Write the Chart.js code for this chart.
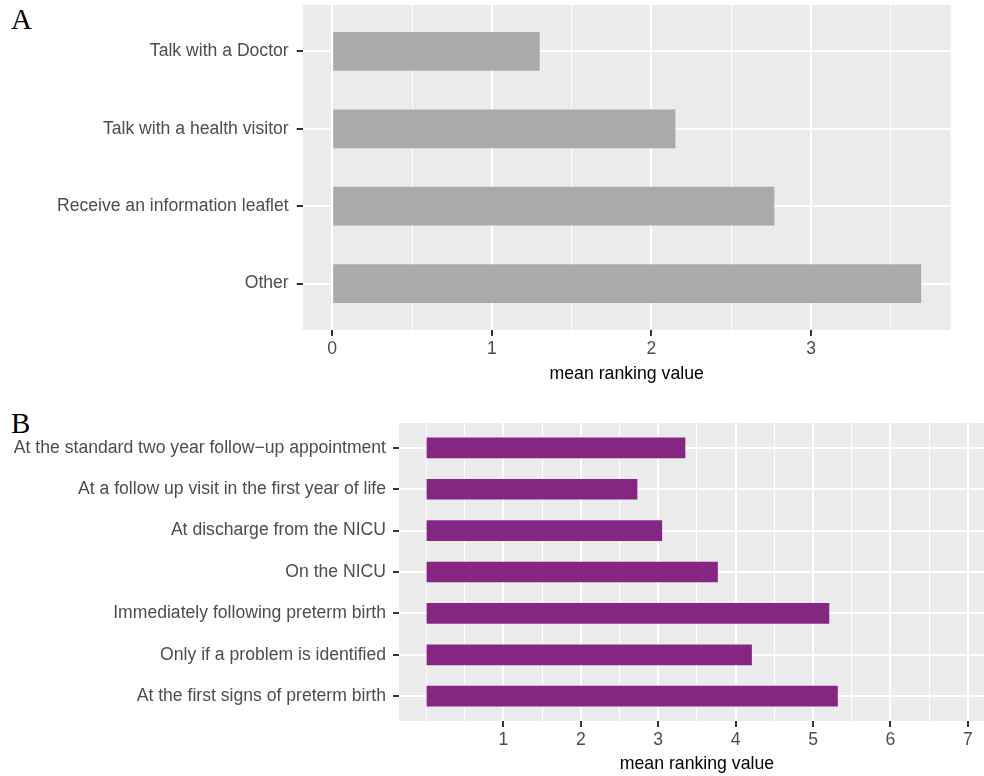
<!DOCTYPE html>
<html>
<head>
<meta charset="utf-8">
<script src="https://cdn.jsdelivr.net/npm/chart.js@4/dist/chart.umd.min.js"></script>
<style>
  html, body { margin: 0; padding: 0; background: #fff; overflow: hidden; }
  body { width: 984px; height: 776px; position: relative; }
  canvas { position: absolute; left: 0; }
  .tag { position: absolute; left: 11px; font-family: "Liberation Serif", "DejaVu Serif", serif; font-size: 29px; line-height: 29px; color: #000; }
</style>
</head>
<body>
<div class="tag" style="top:5px">A</div>
<canvas id="chartA" width="984" height="390" style="top:0"></canvas>
<div class="tag" style="top:409px">B</div>
<canvas id="chartB" width="1000" height="376" style="top:400px"></canvas>
<script>
// panel A: how parents want to receive information
const catsA = ['Talk with a Doctor', 'Talk with a health visitor', 'Receive an information leaflet', 'Other'];
const valsA = [1.30, 2.15, 2.77, 3.69];
const majorA = [0, 1, 2, 3];
const minorA = [0.5, 1.5, 2.5, 3.5];

// panel B: when to receive it
const catsB = [
  'At the standard two year follow\u2212up appointment',
  'At a follow up visit in the first year of life',
  'At discharge from the NICU',
  'On the NICU',
  'Immediately following preterm birth',
  'Only if a problem is identified',
  'At the first signs of preterm birth'
];
const valsB = [3.35, 2.73, 3.05, 3.77, 5.21, 4.21, 5.32];
const majorB = [1, 2, 3, 4, 5, 6, 7];
const minorB = [0, 0.5, 1.5, 2.5, 3.5, 4.5, 5.5, 6.5];

const tickFont = { family: 'Liberation Sans, Arial, sans-serif', size: 17.6 };
const titleFont = { family: 'Liberation Sans, Arial, sans-serif', size: 17.7 };

const panelBg = {
  id: 'panelBg',
  beforeDraw(chart) {
    const { ctx, chartArea: a } = chart;
    ctx.save();
    ctx.fillStyle = '#EBEBEB';
    ctx.fillRect(a.left, a.top, a.right - a.left, a.bottom - a.top);
    ctx.restore();
  }
};

function makeChart(id, cats, vals, color, major, minor, xMin, xMax, lay) {
  const ticksX = major.concat(minor).sort((a, b) => a - b);
  return new Chart(document.getElementById(id), {
    type: 'bar',
    data: {
      datasets: [{
        data: cats.map((c, i) => ({ x: vals[i], y: i + 1 })),
        backgroundColor: color,
        barPercentage: 0.5,
        categoryPercentage: 1
      }]
    },
    options: {
      indexAxis: 'y',
      responsive: false,
      animation: false,
      devicePixelRatio: 1,
      layout: { padding: { top: lay.top, right: lay.right, left: 0, bottom: 0 } },
      plugins: { legend: { display: false }, tooltip: { enabled: false } },
      scales: {
        x: {
          type: 'linear',
          min: xMin,
          max: xMax,
          afterBuildTicks: s => { s.ticks = ticksX.map(v => ({ value: v })); },
          afterFit: s => { s.height = lay.xHeight; s.paddingLeft = 0; s.paddingRight = 0; },
          border: { display: false },
          grid: {
            color: '#FFFFFF',
            lineWidth: c => major.includes(c.tick.value) ? 2 : 1,
            tickColor: c => major.includes(c.tick.value) ? '#333333' : 'rgba(0,0,0,0)',
            tickWidth: 2,
            tickLength: 6
          },
          ticks: {
            autoSkip: false,
            maxRotation: 0,
            font: tickFont,
            color: '#4D4D4D',
            padding: lay.xPad,
            callback: v => major.includes(v) ? String(v) : ''
          },
          title: {
            display: true,
            text: 'mean ranking value',
            font: titleFont,
            color: '#000000',
            padding: { top: 0, bottom: lay.titlePad }
          }
        },
        y: {
          type: 'linear',
          reverse: true,
          offset: false,
          min: 0.4,
          max: cats.length + 0.6,
          afterBuildTicks: s => { s.ticks = cats.map((c, i) => ({ value: i + 1 })); },
          afterFit: s => { s.width = lay.yWidth; s.paddingTop = 0; s.paddingBottom = 0; },
          border: { display: false },
          grid: {
            offset: false,
            color: '#FFFFFF',
            lineWidth: 2,
            tickColor: '#333333',
            tickWidth: 2,
            tickLength: 6
          },
          ticks: {
            autoSkip: false,
            font: tickFont,
            color: '#4D4D4D',
            padding: lay.yPad,
            callback: v => cats[v - 1]
          }
        }
      }
    },
    plugins: [panelBg]
  });
}

makeChart('chartA', catsA, valsA, '#AAAAAA', majorA, minorA, -0.185, 3.875,
  { top: 5, right: 33.3, yWidth: 302.7, xHeight: 60, xPad: 3, titlePad: 5, yPad: 8 });

makeChart('chartB', catsB, valsB, '#862683', majorB, minorB, -0.35, 7.35,
  { top: 23, right: 5.1, yWidth: 399, xHeight: 55, xPad: 3, titlePad: 1, yPad: 7 });
</script>
</body>
</html>
